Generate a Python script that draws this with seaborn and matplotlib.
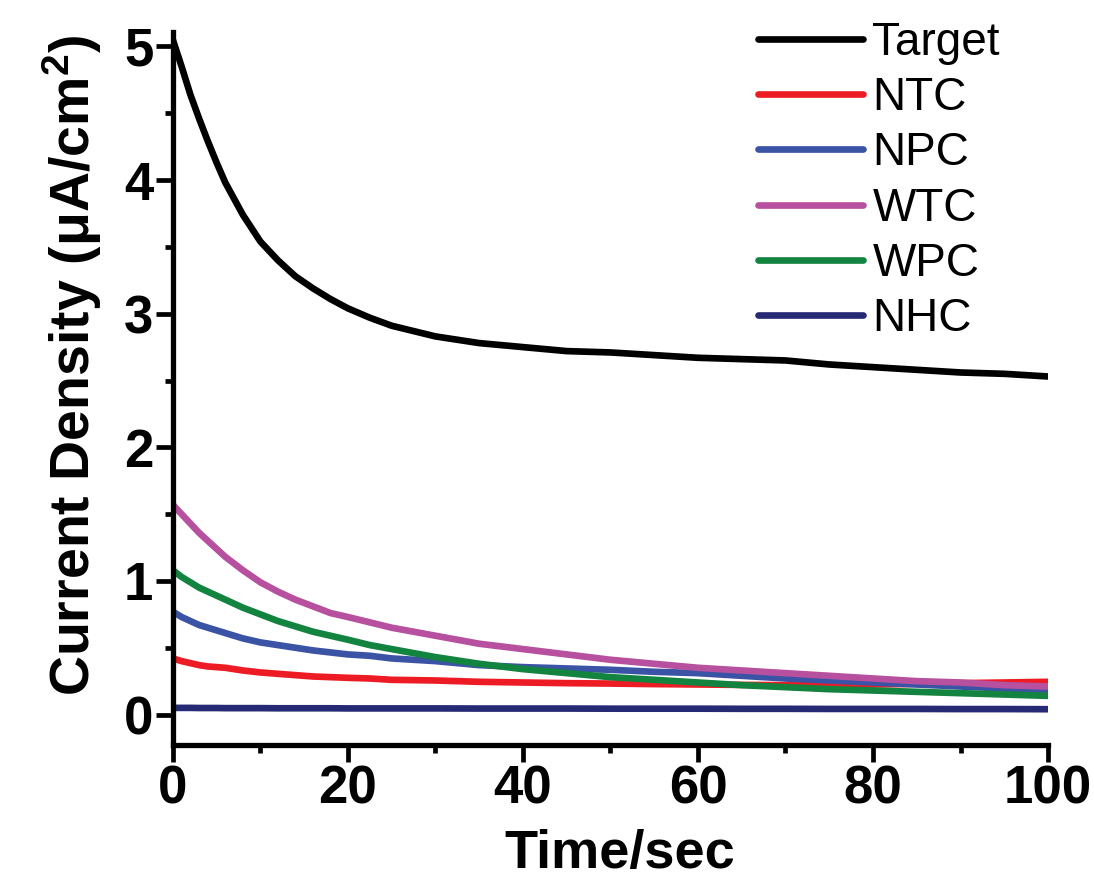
import numpy as np
import pandas as pd
import matplotlib
matplotlib.use("Agg")
import matplotlib.pyplot as plt
import seaborn as sns
from matplotlib.ticker import MultipleLocator

# --- Data ---
time_s = [0, 1, 2, 3, 4, 5, 6, 8, 10, 12, 14, 16, 18, 20, 22.5, 25, 30, 35,
          40, 45, 50, 55, 60, 65, 70, 75, 80, 85, 90, 95, 100]

target = [5.05, 4.85, 4.64, 4.46, 4.29, 4.13, 3.98, 3.74, 3.54, 3.40, 3.28,
          3.19, 3.11, 3.04, 2.97, 2.91, 2.83, 2.78, 2.75, 2.72, 2.71, 2.69,
          2.67, 2.66, 2.65, 2.62, 2.60, 2.58, 2.56, 2.55, 2.53]
ntc = [0.42, 0.40, 0.385, 0.37, 0.36, 0.355, 0.35, 0.33, 0.315, 0.305, 0.295,
       0.285, 0.28, 0.275, 0.27, 0.26, 0.255, 0.245, 0.24, 0.235, 0.232,
       0.228, 0.225, 0.222, 0.22, 0.222, 0.225, 0.23, 0.235, 0.24, 0.245]
npc = [0.77, 0.73, 0.70, 0.67, 0.65, 0.63, 0.61, 0.57, 0.54, 0.52, 0.50,
       0.48, 0.465, 0.45, 0.44, 0.42, 0.40, 0.37, 0.355, 0.345, 0.335, 0.32,
       0.31, 0.29, 0.27, 0.255, 0.24, 0.225, 0.21, 0.195, 0.18]
wtc = [1.57, 1.50, 1.43, 1.36, 1.30, 1.24, 1.18, 1.08, 0.99, 0.92, 0.86,
       0.81, 0.76, 0.73, 0.69, 0.65, 0.59, 0.53, 0.49, 0.45, 0.41, 0.38,
       0.35, 0.33, 0.31, 0.29, 0.27, 0.25, 0.24, 0.22, 0.21]
wpc = [1.08, 1.03, 0.99, 0.95, 0.92, 0.89, 0.86, 0.80, 0.75, 0.70, 0.66,
       0.62, 0.59, 0.56, 0.52, 0.49, 0.43, 0.38, 0.34, 0.31, 0.28, 0.26,
       0.24, 0.22, 0.205, 0.19, 0.18, 0.17, 0.16, 0.15, 0.14]
nhc = [0.05, 0.05, 0.05, 0.049, 0.049, 0.049, 0.048, 0.048, 0.048, 0.047,
       0.047, 0.047, 0.047, 0.046, 0.046, 0.046, 0.046, 0.045, 0.045, 0.045,
       0.044, 0.044, 0.044, 0.043, 0.043, 0.042, 0.042, 0.042, 0.041, 0.041,
       0.04]

sample_names = ["Target", "NTC", "NPC", "WTC", "WPC", "NHC"]
sample_colors = ["#000000", "#ED1C24", "#3A53A4", "#B7509E", "#138340", "#262A74"]

# --- Build long-form table ---
series = [target, ntc, npc, wtc, wpc, nhc]
frames = []
for name, vals in zip(sample_names, series):
    frames.append(pd.DataFrame({"Time": time_s, "Current": vals, "Sample": name}))
df = pd.concat(frames, ignore_index=True)

# --- Style ---
sns.set_theme(style="ticks")
plt.rcParams['font.family'] = ['Liberation Sans', 'DejaVu Sans']
plt.rcParams['mathtext.fontset'] = 'custom'
plt.rcParams['mathtext.rm'] = 'Liberation Sans:bold'
plt.rcParams['mathtext.default'] = 'rm'
for key in ['text.color', 'axes.labelcolor', 'xtick.color', 'ytick.color',
            'axes.edgecolor']:
    plt.rcParams[key] = 'black'

fig = plt.figure(figsize=(10.94, 8.82), dpi=100)
ax = fig.add_axes([0.158, 0.155, 0.800, 0.809])

sns.lineplot(data=df, x="Time", y="Current", hue="Sample",
             hue_order=sample_names, palette=sample_colors,
             estimator=None, sort=False, linewidth=4.8, ax=ax)

ax.set_xlim(0, 100)
ax.set_ylim(-0.23, 5.11)
ax.xaxis.set_major_locator(MultipleLocator(20))
ax.xaxis.set_minor_locator(MultipleLocator(10))
ax.yaxis.set_major_locator(MultipleLocator(1))
ax.yaxis.set_minor_locator(MultipleLocator(0.5))

sns.despine(ax=ax)
for side in ["left", "bottom"]:
    ax.spines[side].set_linewidth(3.8)
ax.tick_params(which="major", length=12, width=3.4, pad=2,
               labelsize=38, direction="out", color="black")
ax.tick_params(which="minor", length=6, width=3.4, direction="out", color="black")
for lab in ax.get_xticklabels() + ax.get_yticklabels():
    lab.set_fontweight("bold")

ax.set_xlabel("Time/sec", fontsize=39, fontweight="bold")
ax.xaxis.set_label_coords(0.511, -0.118)
ax.set_ylabel("Current Density (\u03bcA/cm$^2$)", fontsize=40, fontweight="bold")
ax.yaxis.set_label_coords(-0.079, 0.533)

handles, labels = ax.get_legend_handles_labels()
ax.legend(handles, labels, loc="upper left", bbox_to_anchor=(0.676, 0.997),
          bbox_transform=fig.transFigure, frameon=False, fontsize=33,
          handlelength=2.3, handletextpad=0.2, labelspacing=0.245,
          borderaxespad=0)

fig.savefig("out.png", dpi=100)
